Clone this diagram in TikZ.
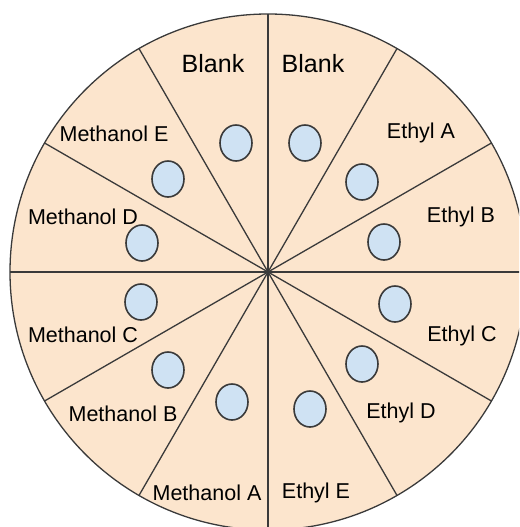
\documentclass[tikz,border=0pt]{standalone}
\usepackage{fontspec}
\usetikzlibrary{shapes.geometric}
\setmainfont{Liberation Sans}
\definecolor{peach}{HTML}{FCE5CD}
\definecolor{wellblue}{HTML}{CFE2F3}
\definecolor{edge}{HTML}{3A3A3A}
\begin{document}
\begin{tikzpicture}[x=1pt,y=-1pt,
  well/.style={draw=edge,line width=1.6pt,fill=wellblue,ellipse,minimum width=32pt,minimum height=36pt,inner sep=0pt},
  lab/.style={font=\fontsize{21.5}{24}\selectfont,text=black,inner sep=0pt},
  blanklab/.style={font=\fontsize{25}{28}\selectfont,text=black,inner sep=0pt},
  spoke/.style={draw=edge,line width=1.3pt}]
\useasboundingbox (0,0) rectangle (519,527);
\begin{scope}
\clip (0,0) rectangle (519,527);
\coordinate (c) at (268,272);
\fill[peach,draw=edge,line width=1.3pt] (c) circle[radius=258];
\foreach \a in {0,30,...,330}{
  \draw[spoke] (c) -- ++({258*cos(\a)},{-258*sin(\a)});
}
\end{scope}
% wells
\node[well] (wbl) at (236,143) {};
\node[well] (wbr) at (305,143) {};
\node[well] (wea) at (362,182) {};
\node[well] (web) at (384,242) {};
\node[well] (wec) at (395,304) {};
\node[well] (wed) at (362,364) {};
\node[well] (wee) at (310,409) {};
\node[well] (wma) at (232,402) {};
\node[well] (wmb) at (168,370) {};
\node[well] (wmc) at (141,302) {};
\node[well] (wmd) at (142,243) {};
\node[well] (wme) at (168,179) {};
% labels
\node[blanklab] (lbl) at (213,64) {Blank};
\node[blanklab] (lbr) at (313,64) {Blank};
\node[lab] (lme) at (114,134) {Methanol E};
\node[lab] (lmd) at (83,217) {Methanol D};
\node[lab] (lmc) at (83,335) {Methanol C};
\node[lab] (lmb) at (123,414) {Methanol B};
\node[lab] (lma) at (207,493) {Methanol A};
\node[lab] (lea) at (421,133) {Ethyl A};
\node[lab] (leb) at (461,217) {Ethyl B};
\node[lab] (lec) at (462,336) {Ethyl C};
\node[lab] (led) at (401,413) {Ethyl D};
\node[lab] (lee) at (316,493) {Ethyl E};
\end{tikzpicture}
\end{document}
